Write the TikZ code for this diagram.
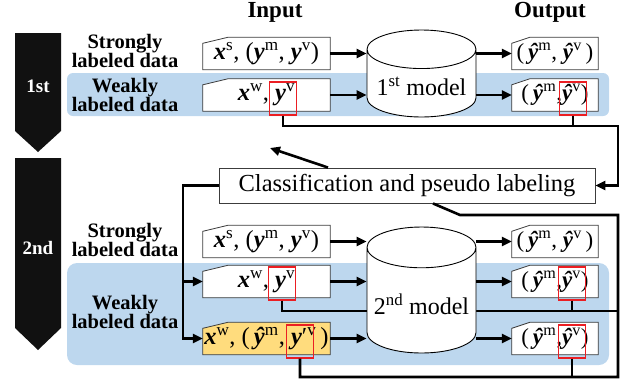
\documentclass[tikz,border=0pt]{standalone}
\usepackage{fontspec}
\setmainfont{Liberation Serif}
\usetikzlibrary{arrows.meta,shapes.geometric,backgrounds}
\definecolor{band}{RGB}{189,215,238}
\definecolor{pseudo}{RGB}{255,220,125}
\definecolor{redmark}{RGB}{235,30,35}
\definecolor{boxline}{RGB}{60,60,60}
\definecolor{stage}{RGB}{17,17,17}
\newcommand{\vx}{\textbf{\textit{x}}}
\newcommand{\vy}{\textbf{\textit{y}}}
\newcommand{\hy}{\textbf{\textit{ŷ}}}
\newcommand{\up}[1]{\textsuperscript{#1}}

\begin{document}
\begin{tikzpicture}[x=1pt,y=-1pt,
    inbox/.style={font=\fontsize{24.5}{27}\selectfont, inner sep=0pt, minimum width=127pt, minimum height=32pt},
    outbox/.style={font=\fontsize{23}{26}\selectfont, inner sep=0pt, minimum width=86pt, minimum height=32pt},
    redbox/.style={draw=redmark, line width=1.3pt, minimum width=27pt, minimum height=33pt, inner sep=0pt},
    model/.style={cylinder, shape border rotate=90, aspect=0.4, draw=black, line width=0.9pt,
      fill=white, minimum width=109pt, anchor=shape center, font=\fontsize{24}{28}\selectfont},
    side/.style={font=\bfseries\fontsize{20.5}{17}\selectfont, align=center, inner sep=0pt},
    head/.style={font=\bfseries\fontsize{23}{26}\selectfont},
    stagetext/.style={font=\bfseries\fontsize{19}{22}\selectfont, text=white},
    conn/.style={line width=2.6pt},
    arr/.style={conn, -{Triangle[length=10pt,width=9pt]}},
  ]
  \useasboundingbox (0,0) rectangle (628,381);

  % Stage arrows
  \fill[stage] (15,33) -- (61,33) -- (61,131) -- (38,152) -- (15,131) -- cycle;
  \node[stagetext] (st1) at (38,86) {1st};
  \fill[stage] (15,158) -- (61,158) -- (61,328) -- (38,350) -- (15,328) -- cycle;
  \node[stagetext] (st2) at (38,248) {2nd};

  % Headers and row labels
  \node[head] (hin) at (275,12) {Input};
  \node[head] (hout) at (550,12) {Output};
  \node[side] (l1s) at (125,51) {Strongly\\labeled data};
  \node[side] (l1w) at (125,95) {Weakly\\labeled data};
  \node[side] (l2s) at (125,240) {Strongly\\labeled data};
  \node[side] (l2w) at (125,312) {Weakly\\labeled data};

  % Data
  \node[inbox] (in1s) at (266.5,53.5) {\vx\up{s}, (\vy\up{m}, \vy\up{v})};
  \node[inbox] (in1w) at (266.5,95) {\vx\up{w}, \vy\up{v}};
  \node[outbox] (out1s) at (555,53.5) {(\,\hy\up{m}, \hy\up{v}\,)};
  \node[outbox] (out1w) at (555,95) {(\,\hy\up{m},\hy\up{v})};
  \node[inbox] (in2s) at (266.5,241.5) {\vx\up{s}, (\vy\up{m}, \vy\up{v})};
  \node[inbox] (in2w) at (266.5,281.5) {\vx\up{w}, \vy\up{v}};
  \node[inbox] (in2p) at (266.5,338.5) {\vx\up{w}, (\,\hy\up{m}, \vy′\up{v}\,)};
  \node[outbox] (out2s) at (555,241.5) {(\,\hy\up{m}, \hy\up{v}\,)};
  \node[outbox] (out2w) at (555,281.5) {(\,\hy\up{m},\hy\up{v})};
  \node[outbox] (out2p) at (555,338.5) {(\,\hy\up{m},\hy\up{v})};

  % Marked labels
  \node[redbox] (r1i) at (283,98.5) {};
  \node[redbox] (r1o) at (573,98.5) {};
  \node[redbox] (r2i) at (282,283.5) {};
  \node[redbox] (r2o) at (572,283.5) {};
  \node[redbox] (r3i) at (300,341.5) {};
  \node[redbox] (r3o) at (572,341.5) {};

  \node[draw=boxline, line width=0.9pt, fill=white, minimum width=376pt, minimum height=35pt,
    font=\fontsize{24.5}{28}\selectfont] (cls) at (407,185.5) {Classification and pseudo labeling};

  % Feedback of the 2nd stage (runs behind the model)
  \coordinate (mid2) at (618,311);
  \coordinate (rb) at (618,377);
  \coordinate (rt) at (618,215);
  \coordinate (kink) at (460,215);
  \draw[conn] (r2i.south) |- (mid2);
  \draw[conn] (r2o.south) -- (r2o.south |- mid2);
  \draw[conn] (r3o.south) -- (r3o.south |- rb);
  \draw[conn] (r3i.south) |- (rb) -- (rt) -- (kink) -- ([xshift=26pt]cls.south);

  % Models
  \node[model, minimum height=87pt] (m1) at (421.5,73.5) {1\up{st} model};
  \node[model, minimum height=126pt] (m2) at (421.5,290) {2\up{nd} model};

  \foreach \a/\b in {in1s/m1, in1w/m1, in2s/m2, in2w/m2, in2p/m2}
    \draw[arr] (\a.east) -- (\a.east -| \b.west);
  \foreach \a/\b in {m1/out1s, m1/out1w, m2/out2s, m2/out2w, m2/out2p}
    \draw[arr] (\b.west -| \a.east) -- (\b.west);

  % Feedback of the 1st stage
  \coordinate (fb1) at (618,126);
  \draw[arr] (r1i.south) |- (fb1) |- (cls.east);
  \draw[conn] (r1o.south) -- (r1o.south |- fb1);
  \coordinate (back) at (270,148);
  \draw[arr] ([xshift=-79pt]cls.north) -- (back);

  % Pseudo labels into the 2nd stage
  \coordinate (dn) at (183,338.5);
  \draw[arr] (cls.west) -| (dn) -- (in2p.west);
  \draw[arr] (in2w.west -| dn) -- (in2w.west);

  \begin{scope}[on background layer]
    \fill[band, rounded corners=6pt] (67,73) rectangle (609,116);
    \fill[band, rounded corners=10pt] (67,263) rectangle (609,365);
    \foreach \b/\c/\w in {in1s/white/25, in1w/white/25, in2s/white/25, in2w/white/25, in2p/pseudo/25,
        out1s/white/18, out1w/white/18, out2s/white/18, out2w/white/18, out2p/white/18}
      \filldraw[draw=boxline, line width=0.8pt, fill=\c] ([xshift=\w pt]\b.north west) -- (\b.north east)
        -- (\b.south east) -- (\b.south west) -- ([yshift=-6pt]\b.north west) -- cycle;
  \end{scope}
\end{tikzpicture}
\end{document}
